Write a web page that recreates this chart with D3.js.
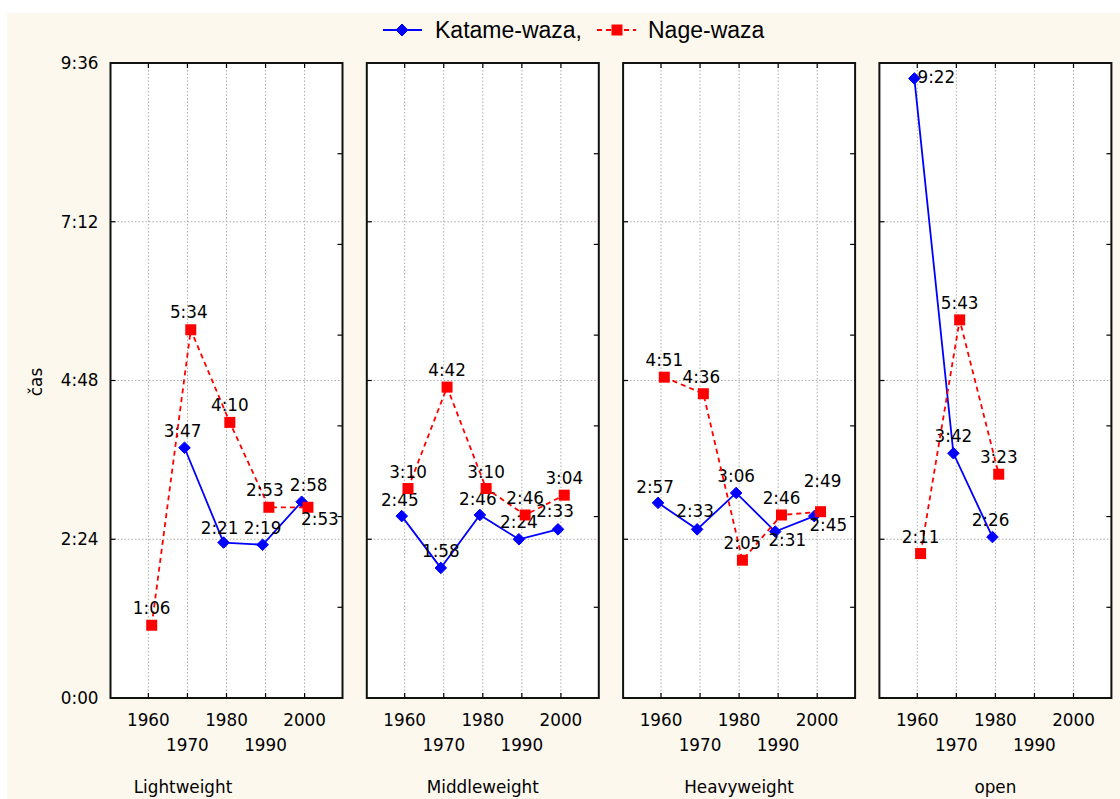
<!DOCTYPE html>
<html>
<head>
<meta charset="utf-8">
<script src="https://cdn.jsdelivr.net/npm/d3@7"></script>
<style>
  html, body { margin: 0; padding: 0; background: #ffffff; }
  svg { display: block; }
</style>
</head>
<body>
<svg id="chart" width="1120" height="799"></svg>
<script>
// Weight categories (one panel each) and decades on the x axis
const categories = ["Lightweight", "Middleweight", "Heavyweight", "open"];
const decades = [1960, 1970, 1980, 1990, 2000];

// Average duration (m:ss) per decade, null where no value exists
const katameWaza = [
  [null,   "3:47", "2:21", "2:19", "2:58"],
  ["2:45", "1:58", "2:46", "2:24", "2:33"],
  ["2:57", "2:33", "3:06", "2:31", "2:45"],
  ["9:22", "3:42", "2:26", null,   null]
];
const nageWaza = [
  ["1:06", "5:34", "4:10", "2:53", "2:53"],
  ["3:10", "4:42", "3:10", "2:46", "3:04"],
  ["4:51", "4:36", "2:05", "2:46", "2:49"],
  ["2:11", "5:43", "3:23", null,   null]
];

const seriesNames = ["Katame-waza,", "Nage-waza"];
const yTickLabels = ["0:00", "2:24", "4:48", "7:12", "9:36"];
const yAxisTitle = "čas";

// ---- helpers ----
const toSec = s => { const [m, ss] = s.split(":").map(Number); return m * 60 + ss; };
const fmt = v => Math.floor(v / 60) + ":" + String(Math.round(v % 60)).padStart(2, "0");

// ---- layout ----
const W = 1120, H = 799;
const plotTop = 63, plotBottom = 698;
const panelW = 232, panelPitch = 256.3, firstLeft = 110.5;
const smallFont = "'DejaVu Sans', Verdana, sans-serif";
const legendFont = "'Liberation Sans', Arial, sans-serif";
const fs = 16.8;
const ink = "#000000";

const svg = d3.select("#chart");

// cream page background with a thin white margin
svg.append("rect").attr("x", 7).attr("y", 13).attr("width", W - 7).attr("height", H - 13)
  .attr("fill", "#fdf8ee");

const yTickVals = yTickLabels.map(toSec);
const y = d3.scaleLinear().domain([0, d3.max(yTickVals)]).range([plotBottom, plotTop]);

// y axis tick labels (left of first panel)
const yAxis = d3.axisLeft(y).tickValues(yTickVals).tickFormat(fmt).tickSize(0).tickPadding(12);
const yg = svg.append("g").attr("transform", `translate(${firstLeft},0)`).call(yAxis);
yg.select(".domain").remove();
yg.selectAll("text").attr("font-family", smallFont).attr("font-size", fs).attr("fill", ink);

svg.append("text")
  .attr("transform", `translate(42,382) rotate(-90)`)
  .attr("text-anchor", "middle")
  .attr("font-family", smallFont).attr("font-size", fs).attr("fill", ink)
  .text(yAxisTitle);

// label placement tweaks [dx, dy] relative to the marker (default above it)
const labelNudge = {
  "k-0-1": [-2, -11], "k-0-2": [-4, -9], "k-0-4": [7, -11],
  "k-1-0": [-2, -10], "k-1-2": [-2, -10], "k-1-4": [-3, -12],
  "k-2-0": [-3, -10], "k-2-1": [-2, -12], "k-2-3": [12, 14], "k-2-4": [14, 15],
  "k-3-0": [22, 5], "k-3-2": [-2, -11],
  "n-0-1": [-2, -12], "n-0-3": [-4, -11], "n-0-4": [12, 18],
  "n-2-1": [-2, -11], "n-2-4": [2, -25]
};

const diamond = r => `M0,${-r}L${r},0L0,${r}L${-r},0Z`;

categories.forEach((cat, pi) => {
  const left = firstLeft + pi * panelPitch;
  const x = d3.scaleLinear().domain([1950.3, 2009.7]).range([left, left + panelW]);
  const g = svg.append("g");

  // plot area
  g.append("rect").attr("x", left).attr("y", plotTop).attr("width", panelW).attr("height", plotBottom - plotTop)
    .attr("fill", "#ffffff");

  // dotted grid
  g.selectAll(".vg").data(decades).join("line")
    .attr("x1", d => x(d)).attr("x2", d => x(d)).attr("y1", plotTop).attr("y2", plotBottom)
    .attr("stroke", "#aaaaaa").attr("stroke-width", 1).attr("stroke-dasharray", "1.5,2");
  g.selectAll(".hg").data(yTickVals.slice(1, -1)).join("line")
    .attr("x1", left).attr("x2", left + panelW).attr("y1", d => y(d)).attr("y2", d => y(d))
    .attr("stroke", "#aaaaaa").attr("stroke-width", 1).attr("stroke-dasharray", "1.5,2");

  // inner tick marks: top/bottom at decades, left at major times, right at 7 divisions
  const tk = 5;
  decades.forEach(d => {
    g.append("line").attr("x1", x(d)).attr("x2", x(d)).attr("y1", plotTop).attr("y2", plotTop + tk)
      .attr("stroke", ink).attr("stroke-width", 1.2);
    g.append("line").attr("x1", x(d)).attr("x2", x(d)).attr("y1", plotBottom).attr("y2", plotBottom - tk)
      .attr("stroke", ink).attr("stroke-width", 1.2);
  });
  yTickVals.slice(1, -1).forEach(v => {
    g.append("line").attr("x1", left).attr("x2", left + tk).attr("y1", y(v)).attr("y2", y(v))
      .attr("stroke", ink).attr("stroke-width", 1.2);
  });
  const yr = d3.scaleLinear().domain([0, 7]).range([plotBottom, plotTop]);
  d3.range(1, 7).forEach(i => {
    g.append("line").attr("x1", left + panelW).attr("x2", left + panelW - tk)
      .attr("y1", yr(i)).attr("y2", yr(i)).attr("stroke", ink).attr("stroke-width", 1.2);
  });

  // frame
  g.append("rect").attr("x", left).attr("y", plotTop).attr("width", panelW).attr("height", plotBottom - plotTop)
    .attr("fill", "none").attr("stroke", "#111").attr("stroke-width", 2);

  // x tick labels on two staggered rows
  decades.forEach((d, i) => {
    g.append("text").attr("x", x(d)).attr("y", i % 2 === 0 ? 726 : 751)
      .attr("text-anchor", "middle").attr("font-family", smallFont).attr("font-size", fs)
      .attr("fill", ink).text(d);
  });
  // panel title
  const titleX = pi === 0 ? 183 : left + panelW / 2;
  g.append("text").attr("x", titleX).attr("y", 793).attr("text-anchor", "middle")
    .attr("font-family", smallFont).attr("font-size", fs).attr("fill", ink).text(cat);

  // series
  const series = [
    { key: "k", vals: katameWaza[pi], shift: -0.75, color: "#0000ff", dash: null },
    { key: "n", vals: nageWaza[pi], shift: 0.85, color: "#ff0000", dash: "5,4" }
  ];
  series.forEach(s => {
    const pts = s.vals.map((v, i) => v == null ? null : { i, yr: decades[i] + s.shift, v: toSec(v), label: v })
      .filter(p => p);
    const line = d3.line().x(p => x(p.yr)).y(p => y(p.v));
    g.append("path").attr("d", line(pts)).attr("fill", "none").attr("stroke", s.color)
      .attr("stroke-width", 1.8).attr("stroke-dasharray", s.dash);
    pts.forEach(p => {
      const cx = x(p.yr), cy = y(p.v);
      if (s.key === "k") {
        g.append("path").attr("d", diamond(5.8)).attr("transform", `translate(${cx},${cy})`)
          .attr("fill", s.color).attr("stroke", s.color).attr("stroke-width", 1).attr("stroke-linejoin", "round");
      } else {
        g.append("rect").attr("x", cx - 5.5).attr("y", cy - 5.5).attr("width", 11).attr("height", 11)
          .attr("fill", s.color);
      }
    });
    pts.forEach(p => {
      const [dx, dy] = labelNudge[`${s.key}-${pi}-${p.i}`] || [0, -11];
      g.append("text").attr("x", x(p.yr) + dx).attr("y", y(p.v) + dy)
        .attr("text-anchor", "middle").attr("font-family", smallFont).attr("font-size", fs)
        .attr("fill", ink).text(p.label);
    });
  });
});

// legend
const lg = svg.append("g");
lg.append("line").attr("x1", 383).attr("x2", 422).attr("y1", 30).attr("y2", 30)
  .attr("stroke", "#0000ff").attr("stroke-width", 1.8);
lg.append("path").attr("d", diamond(6)).attr("transform", "translate(402,30)").attr("fill", "#0000ff")
  .attr("stroke", "#0000ff").attr("stroke-width", 1).attr("stroke-linejoin", "round");
lg.append("text").attr("x", 435).attr("y", 38).attr("font-family", legendFont).attr("font-size", 23)
  .attr("fill", ink).text(seriesNames[0]);
lg.append("line").attr("x1", 597).attr("x2", 636).attr("y1", 30).attr("y2", 30)
  .attr("stroke", "#ff0000").attr("stroke-width", 1.8).attr("stroke-dasharray", "5,4");
lg.append("rect").attr("x", 611.5).attr("y", 24.5).attr("width", 11).attr("height", 11).attr("fill", "#ff0000");
lg.append("text").attr("x", 648).attr("y", 38).attr("font-family", legendFont).attr("font-size", 23)
  .attr("fill", ink).text(seriesNames[1]);
</script>
</body>
</html>
